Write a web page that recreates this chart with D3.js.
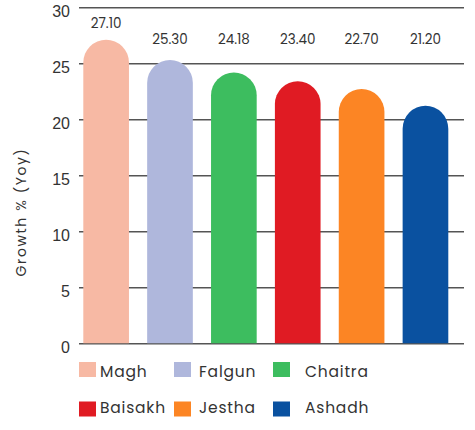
<!DOCTYPE html>
<html>
<head>
<meta charset="utf-8">
<script src="https://cdn.jsdelivr.net/npm/d3@7"></script>
<style>
  html, body { margin: 0; padding: 0; background: #fff; }
  svg { display: block; font-family: "Poppins", "Open Sans", sans-serif; }
</style>
</head>
<body>
<svg id="chart" width="475" height="430"></svg>
<script>
// Year-on-year growth by month
const months = ["Magh", "Falgun", "Chaitra", "Baisakh", "Jestha", "Ashadh"];
const growth = [27.10, 25.30, 24.18, 23.40, 22.70, 21.20];
const barColors = ["#F7B9A4", "#AFB7DC", "#3DBD5F", "#E01B23", "#FC8524", "#0A51A0"];
const yTicks = [0, 5, 10, 15, 20, 25, 30];
const yTitle = "Growth % (Yoy)";

const svg = d3.select("#chart");

const y = d3.scaleLinear().domain([0, 30]).range([343.3, 7.3]);
const x = d3.scaleBand().domain(months).range([83.3, 448.3]).paddingInner(0.285).paddingOuter(0);

const gridLeft = 79, gridRight = 464;

// Horizontal grid lines with tick labels
const yAxis = d3.axisLeft(y).tickValues(yTicks).tickSize(-(gridRight - gridLeft)).tickPadding(9);
const gAxis = svg.append("g").attr("transform", `translate(${gridLeft},0)`).call(yAxis);
gAxis.select(".domain").remove();
gAxis.selectAll(".tick line").attr("stroke", "#555").attr("stroke-width", 1.6);
gAxis.selectAll(".tick text")
  .attr("fill", "#333")
  .attr("font-size", 16)
  .attr("dy", "0.72em")
  .attr("y", -2);

// Axis title
svg.append("text")
  .attr("transform", `translate(26,212) rotate(-90)`)
  .attr("text-anchor", "middle")
  .attr("font-size", 14)
  .attr("letter-spacing", 1.6)
  .attr("fill", "#333")
  .text(yTitle);

// Bars with rounded tops
const data = months.map((m, i) => ({ month: m, value: growth[i], color: barColors[i] }));

function domePath(d) {
  const x0 = x(d.month), w = x.bandwidth(), r = w / 2;
  const top = y(d.value), base = y(0);
  return `M${x0},${base} L${x0},${top + r} A${r},${r} 0 0 1 ${x0 + w},${top + r} L${x0 + w},${base} Z`;
}

svg.append("g").selectAll("path")
  .data(data)
  .join("path")
  .attr("d", domePath)
  .attr("fill", d => d.color);

// Value labels
svg.append("g").selectAll("text")
  .data(data)
  .join("text")
  .attr("x", d => x(d.month) + x.bandwidth() / 2)
  .attr("y", d => Math.min(y(d.value) - 12, 43.5))
  .attr("text-anchor", "middle")
  .attr("font-size", 13.5)
  .attr("fill", "#333")
  .text(d => d.value.toFixed(2));

// Legend: three columns, two rows
const colSwatchX = [79, 174, 273];
const colTextX = [100, 199, 305];
const rowSwatchY = [362, 401.5];
const rowTextY = [376.5, 413];

const legend = svg.append("g").selectAll("g")
  .data(data)
  .join("g");

legend.append("rect")
  .attr("x", (d, i) => colSwatchX[i % 3])
  .attr("y", (d, i) => rowSwatchY[Math.floor(i / 3)])
  .attr("width", 17)
  .attr("height", 15)
  .attr("fill", d => d.color);

legend.append("text")
  .attr("x", (d, i) => colTextX[i % 3])
  .attr("y", (d, i) => rowTextY[Math.floor(i / 3)])
  .attr("font-size", 15.5)
  .attr("letter-spacing", 0.8)
  .attr("fill", "#333")
  .text(d => d.month);
</script>
</body>
</html>
